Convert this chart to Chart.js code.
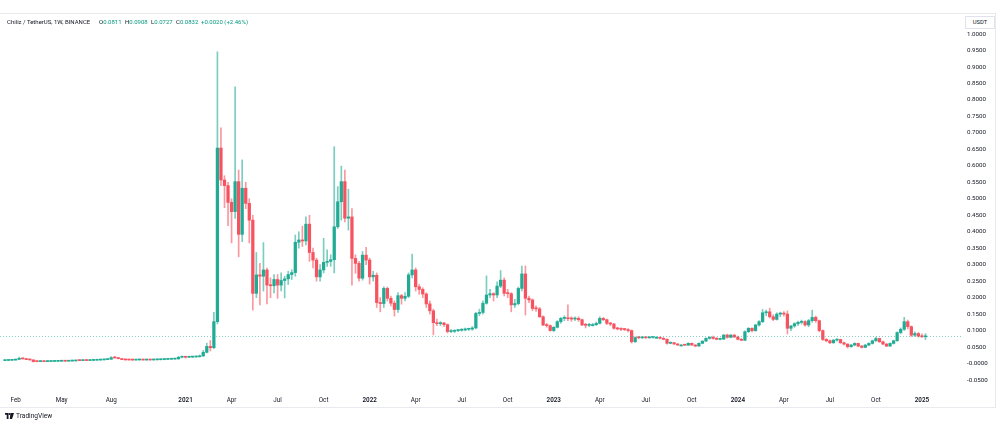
<!DOCTYPE html>
<html>
<head>
<meta charset="utf-8">
<script src="https://cdn.jsdelivr.net/npm/chart.js@4.4.1/dist/chart.umd.min.js"></script>
<style>
  html, body { margin: 0; padding: 0; background: #fff; }
  #wrap { position: relative; width: 1000px; height: 426px; overflow: hidden; font-family: Roboto, "Noto Sans", sans-serif; }
  #chart { position: absolute; left: 0; top: 0; }
  #frame { position: absolute; left: -1px; top: 13px; width: 995px; height: 393px; border: 1px solid #e9eaee; }
  .legend { position: absolute; top: 18px; font-size: 6px; color: #131722; white-space: nowrap; }
  .legend b { font-weight: 400; color: #089981; }
  #unit { position: absolute; left: 965px; top: 16px; width: 28px; height: 11px; border: 1px solid #e0e3eb; background: #fff;
          font-size: 5.8px; line-height: 11px; text-align: center; color: #131722; }
  #tv { position: absolute; left: 5px; top: 412px; font-size: 6.6px; color: #131722; display: flex; align-items: center; gap: 2px; }
</style>
</head>
<body>
<div id="wrap">
  <canvas id="chart" width="1000" height="426"></canvas>
  <div id="frame"></div>
  <div class="legend" style="left:7px">Chiliz / TetherUS, 1W, BINANCE</div>
  <div class="legend" style="left:99px">O<b>0.0811</b></div>
  <div class="legend" style="left:125px">H<b>0.0908</b></div>
  <div class="legend" style="left:151px">L<b>0.0727</b></div>
  <div class="legend" style="left:176px">C<b>0.0832</b></div>
  <div class="legend" style="left:201px"><b>+0.0020 (+2.46%)</b></div>
  <div id="unit">USDT</div>
  <div id="tv">
    <svg width="9" height="6" viewBox="0 0 36 24"><path d="M0 0h14v24H7V7H0z M22 0h14l-8 24h-9z" fill="#131722"/><circle cx="18" cy="4" r="4" fill="#131722"/></svg>
    <span>TradingView</span>
  </div>
</div>
<script>
// weekly candles, CHZ/USDT, week of 13 Jan 2020 to week of 6 Jan 2025
const opens = [
  .0088, .0093, .0098, .0105, .0125, .0160, .0140, .0120, .0110, .0060,
  .0058, .0060, .0058, .0062, .0063, .0066, .0070, .0072, .0070, .0075,
  .0078, .0090, .0088, .0092, .0090, .0095, .0100, .0105, .0110, .0120,
  .0130, .0180, .0170, .0150, .0120, .0110, .0108, .0105, .0108, .0110,
  .0106, .0110, .0108, .0112, .0115, .0120, .0125, .0130, .0135, .0140,
  .0190, .0200, .0190, .0195, .0200, .0205, .0230, .0340, .0520, .0480,
  .1270, .6540, .5570, .5400, .4890, .4610, .5520, .3920, .5320, .4860,
  .4350, .2130, .2690, .2650, .2840, .2380, .2360, .2550, .2380, .2520,
  .2570, .2700, .2760, .3680, .3750, .3720, .4230, .3370, .3140, .2630,
  .2840, .3070, .3100, .3150, .4150, .4910, .5520, .4410, .4450, .3190,
  .3040, .2590, .3290, .3140, .2630, .2680, .1850, .1820, .2280, .1980,
  .1830, .1640, .2060, .1980, .2040, .2690, .2840, .2330, .2250, .2110,
  .1810, .1600, .1240, .1210, .1230, .1180, .0970, .0980, .1000, .1010,
  .1020, .1040, .1045, .1080, .1520, .1550, .1830, .2080, .2120, .2080,
  .2350, .2530, .2130, .2120, .1780, .1820, .2280, .2720, .1980, .1930,
  .1670, .1660, .1420, .1170, .1150, .1000, .1100, .1270, .1370, .1380,
  .1360, .1350, .1370, .1330, .1170, .1160, .1180, .1180, .1220, .1370,
  .1330, .1220, .1200, .1070, .1050, .1040, .1030, .1000, .0660, .0790,
  .0780, .0790, .0780, .0790, .0795, .0795, .0765, .0734, .0613, .0632,
  .0592, .0561, .0561, .0556, .0613, .0561, .0531, .0613, .0680, .0765,
  .0795, .0760, .0734, .0740, .0865, .0795, .0865, .0805, .0734, .0705,
  .0966, .1070, .0996, .1170, .1270, .1540, .1570, .1420, .1340, .1500,
  .1520, .1500, .1070, .1140, .1210, .1250, .1270, .1170, .1300, .1400,
  .1300, .1000, .0730, .0690, .0630, .0710, .0730, .0630, .0590, .0510,
  .0560, .0610, .0530, .0490, .0560, .0610, .0690, .0760, .0660, .0590,
  .0530, .0610, .0690, .0940, .1040, .1270, .1120, .0860, .0910, .0830,
  .0811
];
const highs = [
  .0098, .0102, .0110, .0132, .0195, .0175, .0150, .0130, .0115, .0068,
  .0065, .0066, .0066, .0068, .0070, .0074, .0077, .0076, .0080, .0083,
  .0096, .0095, .0098, .0097, .0100, .0106, .0110, .0116, .0126, .0140,
  .0210, .0215, .0178, .0155, .0125, .0116, .0112, .0114, .0116, .0113,
  .0115, .0113, .0118, .0122, .0128, .0135, .0138, .0142, .0148, .0220,
  .0225, .0215, .0210, .0215, .0225, .0260, .0400, .0620, .0700, .1550,
  .9460, .7150, .5700, .5500, .5000, .8400, .5870, .6180, .5500, .5000,
  .4500, .3370, .3040, .3670, .2900, .2600, .2700, .2700, .2750, .2650,
  .2800, .2850, .3900, .4000, .4170, .4450, .4500, .3500, .3200, .3000,
  .3800, .3450, .3300, .6580, .5370, .5990, .5870, .5290, .4700, .3300,
  .3100, .3400, .3530, .3200, .2800, .2750, .2000, .2330, .2320, .2050,
  .1900, .2150, .2100, .2150, .2750, .3320, .2900, .2400, .2300, .2150,
  .1900, .1650, .1350, .1270, .1250, .1200, .1030, .1020, .1040, .1060,
  .1080, .1070, .1120, .1550, .1650, .1900, .2660, .2250, .2150, .2480,
  .2820, .2600, .2250, .2150, .1950, .2320, .2960, .2960, .2050, .1960,
  .1750, .1700, .1450, .1220, .1170, .1120, .1300, .1400, .1450, .1780,
  .1420, .1420, .1420, .1350, .1220, .1220, .1220, .1260, .1420, .1400,
  .1350, .1250, .1220, .1100, .1080, .1070, .1060, .1020, .0810, .0820,
  .0810, .0810, .0810, .0815, .0820, .0810, .0790, .0750, .0660, .0645,
  .0610, .0585, .0580, .0630, .0625, .0575, .0625, .0690, .0780, .0820,
  .0830, .0790, .0770, .0880, .0890, .0880, .0875, .0830, .0760, .0990,
  .1090, .1080, .1190, .1300, .1640, .1620, .1680, .1480, .1540, .1560,
  .1580, .1600, .1160, .1240, .1290, .1320, .1300, .1340, .1620, .1440,
  .1320, .1020, .0760, .0720, .0730, .0760, .0740, .0650, .0600, .0580,
  .0630, .0620, .0550, .0580, .0630, .0710, .0800, .0770, .0680, .0610,
  .0630, .0710, .0960, .1080, .1400, .1320, .1140, .0960, .0940, .0900,
  .0908
];
const lows = [
  .0084, .0089, .0094, .0100, .0120, .0135, .0115, .0100, .0045, .0052,
  .0054, .0055, .0055, .0058, .0060, .0062, .0066, .0066, .0068, .0072,
  .0076, .0084, .0085, .0086, .0088, .0092, .0096, .0100, .0106, .0115,
  .0128, .0160, .0140, .0115, .0102, .0100, .0096, .0100, .0104, .0102,
  .0102, .0100, .0104, .0108, .0110, .0112, .0118, .0124, .0128, .0136,
  .0170, .0165, .0175, .0180, .0185, .0195, .0220, .0320, .0380, .0450,
  .1200, .5400, .4730, .4180, .3660, .4400, .3240, .3700, .4700, .3660,
  .1620, .2000, .1780, .2200, .1810, .2000, .2140, .1980, .2200, .1990,
  .2400, .2550, .2650, .3500, .3550, .3600, .3100, .2900, .2500, .2500,
  .2750, .2950, .2950, .2750, .4100, .4350, .4300, .4050, .2380, .2740,
  .2500, .2530, .3000, .2410, .2500, .1700, .1570, .1700, .1900, .1750,
  .1440, .1550, .1800, .1900, .2000, .2600, .2200, .2100, .2000, .1700,
  .1500, .0870, .1150, .1150, .1120, .0930, .0940, .0940, .0970, .0980,
  .0990, .1000, .1010, .1050, .1450, .1500, .1800, .2000, .1900, .2000,
  .2300, .2050, .2000, .1570, .1700, .1780, .2200, .1470, .1850, .1600,
  .1580, .1400, .1150, .1100, .0980, .0970, .1080, .1220, .1300, .1300,
  .1280, .1300, .1280, .1150, .1080, .1120, .1140, .1150, .1200, .1300,
  .1180, .1150, .1040, .1020, .1000, .1000, .0960, .0620, .0640, .0750,
  .0760, .0765, .0765, .0770, .0775, .0750, .0720, .0590, .0600, .0580,
  .0550, .0545, .0545, .0550, .0550, .0510, .0520, .0600, .0670, .0740,
  .0740, .0720, .0715, .0730, .0770, .0780, .0790, .0720, .0690, .0700,
  .0940, .0960, .0980, .1130, .1240, .1450, .1380, .1300, .1320, .1420,
  .1440, .0900, .1000, .1100, .1150, .1200, .1130, .1120, .1250, .1250,
  .0960, .0700, .0660, .0600, .0610, .0680, .0610, .0560, .0470, .0500,
  .0540, .0510, .0470, .0480, .0540, .0590, .0670, .0640, .0570, .0510,
  .0520, .0590, .0680, .0900, .1000, .1050, .0820, .0820, .0800, .0790,
  .0727
];
const closes = [
  .0093, .0098, .0105, .0125, .0160, .0140, .0120, .0110, .0060, .0058,
  .0060, .0058, .0062, .0063, .0066, .0070, .0072, .0070, .0075, .0078,
  .0090, .0088, .0092, .0090, .0095, .0100, .0105, .0110, .0120, .0130,
  .0180, .0170, .0150, .0120, .0110, .0108, .0105, .0108, .0110, .0106,
  .0110, .0108, .0112, .0115, .0120, .0125, .0130, .0135, .0140, .0190,
  .0200, .0190, .0195, .0200, .0205, .0230, .0340, .0520, .0480, .1270,
  .6540, .5570, .5400, .4890, .4610, .5520, .3920, .5320, .4860, .4350,
  .2130, .2690, .2650, .2840, .2380, .2360, .2550, .2380, .2520, .2570,
  .2700, .2760, .3680, .3750, .3720, .4230, .3370, .3140, .2630, .2840,
  .3070, .3100, .3150, .4150, .4910, .5520, .4410, .4450, .3190, .3040,
  .2590, .3290, .3140, .2630, .2680, .1850, .1820, .2280, .1980, .1830,
  .1640, .2060, .1980, .2040, .2690, .2840, .2330, .2250, .2110, .1810,
  .1600, .1240, .1210, .1230, .1180, .0970, .0980, .1000, .1010, .1020,
  .1040, .1045, .1080, .1520, .1550, .1830, .2080, .2120, .2080, .2350,
  .2530, .2130, .2120, .1780, .1820, .2280, .2720, .1980, .1930, .1670,
  .1660, .1420, .1170, .1150, .1000, .1100, .1270, .1370, .1380, .1360,
  .1350, .1370, .1330, .1170, .1160, .1180, .1180, .1220, .1370, .1330,
  .1220, .1200, .1070, .1050, .1040, .1030, .1000, .0660, .0790, .0780,
  .0790, .0780, .0790, .0795, .0795, .0765, .0734, .0613, .0632, .0592,
  .0561, .0561, .0556, .0613, .0561, .0531, .0613, .0680, .0765, .0795,
  .0760, .0734, .0740, .0865, .0795, .0865, .0805, .0734, .0705, .0966,
  .1070, .0996, .1170, .1270, .1540, .1570, .1420, .1340, .1500, .1520,
  .1500, .1070, .1140, .1210, .1250, .1270, .1170, .1300, .1400, .1300,
  .1000, .0730, .0690, .0630, .0710, .0730, .0630, .0590, .0510, .0560,
  .0610, .0530, .0490, .0560, .0610, .0690, .0760, .0660, .0590, .0530,
  .0610, .0690, .0940, .1040, .1270, .1120, .0860, .0910, .0830, .0811,
  .0832
];

// x-axis labels sit on the week where each month starts
const xTickIndex = [3, 16, 30, 51, 64, 77, 90, 103, 116, 129, 142, 155, 168, 181, 194, 207, 220, 233, 246, 259];
const xTickText = ["Feb", "May", "Aug", "2021", "Apr", "Jul", "Oct", "2022", "Apr", "Jul", "Oct", "2023", "Apr", "Jul", "Oct", "2024", "Apr", "Jul", "Oct", "2025"];
const yTickValues = [1.0, 0.95, 0.9, 0.85, 0.8, 0.75, 0.7, 0.65, 0.6, 0.55, 0.5, 0.45, 0.4, 0.35, 0.3, 0.25, 0.2, 0.15, 0.1, 0.05, 0, -0.05];

const UP = "#22ab94";
const DOWN = "#f7525f";
const UP_WICK = "rgba(34, 171, 148, 0.6)";
const DOWN_WICK = "rgba(247, 82, 95, 0.6)";
const FONT = 'Roboto, "Noto Sans", sans-serif';

const isUp = closes.map((c, i) => c >= opens[i]);

const lastPriceLine = {
  id: "lastPriceLine",
  afterDatasetsDraw(chart) {
    const { ctx, chartArea, scales } = chart;
    const y = Math.round(scales.y.getPixelForValue(closes[closes.length - 1])) + 0.5;
    ctx.save();
    ctx.strokeStyle = UP;
    ctx.globalAlpha = 0.55;
    ctx.lineWidth = 1;
    ctx.setLineDash([1, 2]);
    ctx.beginPath();
    ctx.moveTo(chartArea.left, y);
    ctx.lineTo(chartArea.right, y);
    ctx.stroke();
    ctx.restore();
  },
};

new Chart(document.getElementById("chart"), {
  type: "bar",
  data: {
    datasets: [
      {
        label: "body",
        order: 0,
        data: closes.map((c, i) => ({ x: i, y: [opens[i], c] })),
        backgroundColor: isUp.map((u) => (u ? UP : DOWN)),
        barThickness: 2.6,
        minBarLength: 1,
        grouped: false,
      },
      {
        label: "wick",
        order: 1,
        data: closes.map((c, i) => ({ x: i, y: [lows[i], highs[i]] })),
        backgroundColor: isUp.map((u) => (u ? UP_WICK : DOWN_WICK)),
        barThickness: 1,
        minBarLength: 1,
        grouped: false,
      },
    ],
  },
  options: {
    responsive: false,
    animation: false,
    layout: { padding: { top: 14, bottom: 17, left: 0, right: 0 } },
    plugins: { legend: { display: false }, tooltip: { enabled: false } },
    scales: {
      x: {
        type: "linear",
        offset: false,
        min: -1.41,
        max: 270.6,
        grid: { display: false, drawTicks: false },
        border: { display: false },
        afterBuildTicks: (scale) => {
          scale.ticks = xTickIndex.map((v) => ({ value: v }));
        },
        afterFit: (scale) => {
          scale.height = 14;
        },
        ticks: {
          autoSkip: false,
          maxRotation: 0,
          padding: 2,
          color: "#131722",
          font: (c) => {
            const t = xTickText[xTickIndex.indexOf(c.tick ? c.tick.value : -1)] || "";
            return { family: FONT, size: 6.3, weight: /^\d{4}$/.test(t) ? "600" : "400" };
          },
          callback: (value) => xTickText[xTickIndex.indexOf(value)] || "",
        },
      },
      y: {
        position: "right",
        min: -0.0955,
        max: 1.0607,
        grid: { display: false, drawTicks: false },
        border: { display: false },
        afterBuildTicks: (scale) => {
          scale.ticks = yTickValues.map((v) => ({ value: v }));
        },
        afterFit: (scale) => {
          scale.width = 37;
        },
        ticks: {
          autoSkip: false,
          padding: 4,
          color: "#131722",
          font: { family: FONT, size: 6.2 },
          callback: (value) => (value === 0 ? "-0.0000" : value.toFixed(4)),
        },
      },
    },
  },
  plugins: [lastPriceLine],
});
</script>
</body>
</html>
